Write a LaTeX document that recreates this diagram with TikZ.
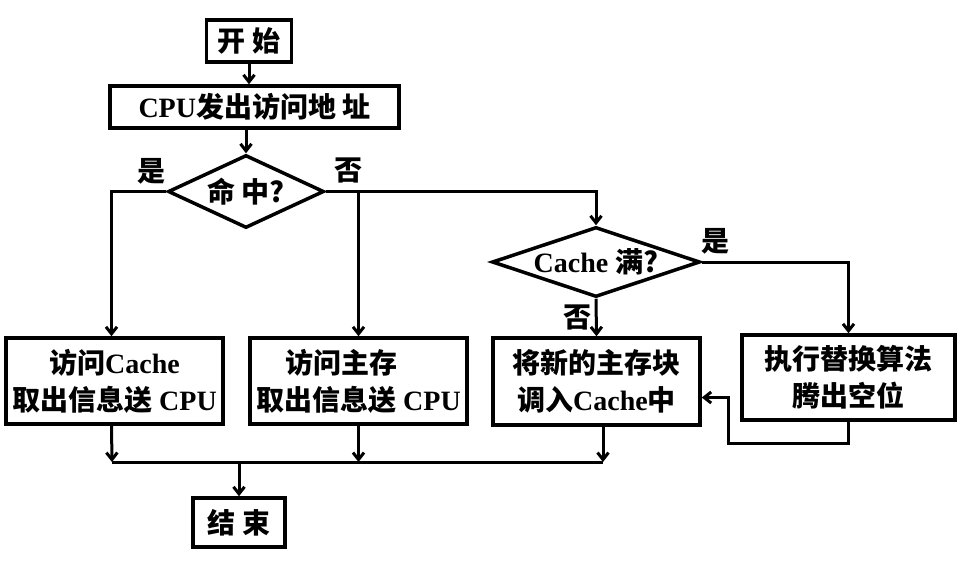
\documentclass[tikz,border=0pt]{standalone}
\usepackage{fontspec}
\setmainfont{Liberation Serif}
\newfontfamily\cjk{Noto Sans CJK SC}
\usetikzlibrary{shapes.geometric,arrows.meta}
\newcommand\zhtxt[1]{{\cjk\bfseries #1}}
\begin{document}
\begin{tikzpicture}[x=1pt,y=-1pt,
  every node/.style={font=\bfseries\fontsize{28}{37}\selectfont},
  box/.style={draw,line width=3.5pt,inner sep=0pt,align=center},
  dia/.style={draw,diamond,line width=3.5pt,inner sep=0pt},
  lbl/.style={inner sep=0pt},
  conn/.style={line width=3pt},
  arr/.style={line width=3pt,-{Straight Barb[length=7pt,width=11pt]}}]
\useasboundingbox (0,0) rectangle (980,576);
\node[box,minimum width=85pt,minimum height=42pt] (start) at (249,41) {\zhtxt{开 始}};
\node[box,minimum width=289pt,minimum height=42pt] (cpu) at (254.5,107) {CPU\zhtxt{发出访问地 址}};
\node[dia,minimum width=156pt,minimum height=73pt,shape aspect=2.1] (hit) at (246,191.5) {\zhtxt{命 中?}};
\node[dia,minimum width=208pt,minimum height=70pt,shape aspect=2.97] (full) at (596,262) {Cache \zhtxt{满?}};
\node[box,minimum width=217pt,minimum height=86pt] (b1) at (114.5,381) {\zhtxt{访问}Cache\\\zhtxt{取出信息送} CPU};
\node[box,minimum width=217pt,minimum height=86pt] (b2) at (358.5,381) {\zhtxt{访问主存}\phantom{Ca}\\\zhtxt{取出信息送} CPU};
\node[box,minimum width=207pt,minimum height=87pt] (b3) at (596.5,381.5) {\zhtxt{将新的主存块}\\\zhtxt{调入}Cache\zhtxt{中}};
\node[box,minimum width=213pt,minimum height=85pt] (b4) at (848.5,377.5) {\zhtxt{执行替换算法}\\\zhtxt{腾出空位}};
\node[box,minimum width=92pt,minimum height=49pt] (end) at (239,522.5) {\zhtxt{结 束}};
\node[lbl] (y1) at (151,171) {\zhtxt{是}};
\node[lbl] (n1) at (348,170) {\zhtxt{否}};
\node[lbl] (y2) at (715,241) {\zhtxt{是}};
\node[lbl] (n2) at (577,317) {\zhtxt{否}};
\coordinate (busL) at (112,462);
\coordinate (busR) at (603,462);
\coordinate (lp) at (728,443);
\draw[arr] (start.south) -- (start.south |- cpu.north);
\draw[arr] (hit.north |- cpu.south) -- (hit.north);
\draw[arr] (hit.west) -| ([xshift=-3pt]b1.north);
\draw[arr] (hit.east) -| (full.north);
\draw[arr] (b2.north |- hit.east) -- (b2.north);
\draw[arr] (full.east) -| (b4.north);
\draw[arr] (full.south) -- (b3.north);
\draw[arr] (b4.south) -- (b4.south |- lp) -- (lp) |- ([yshift=-16pt]b3.east);
\draw[arr] ([xshift=-3pt]b1.south) -- (busL);
\draw[arr] (b2.south) -- (b2.south |- busL);
\draw[arr] (busR |- b3.south) -- (busR);
\draw[conn] (busL) -- (busR);
\draw[arr] (end.north |- busL) -- (end.north);
\end{tikzpicture}
\end{document}
